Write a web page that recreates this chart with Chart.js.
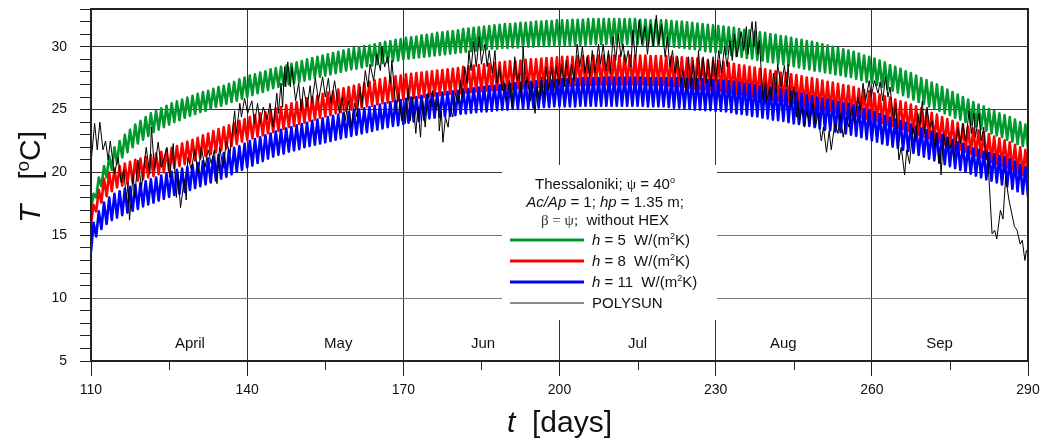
<!doctype html>
<html lang="en">
<head>
  <meta charset="utf-8">
  <title>Collector temperature - Thessaloniki</title>
  <script src="https://cdn.jsdelivr.net/npm/chart.js"></script>
  <style>
    html, body { margin: 0; padding: 0; background: #fff; }
    #wrap { width: 1044px; height: 442px; }
  </style>
</head>
<body>
  <div id="wrap"><canvas id="tempChart" width="1044" height="442"></canvas></div>

  <script>
    // === DATA ===
    // Daily minima (night, at the start of each day) and maxima (midday) in degC, day 110..290
    const firstDay = 110;

    const greenLow = [
      17.0, 18.0, 18.9, 19.6, 20.2, 20.7, 21.2, 21.6, 22.0, 22.3,
      22.6, 22.9, 23.2, 23.4, 23.6, 23.8, 24.0, 24.15, 24.35, 24.5,
      24.65, 24.8, 24.9, 25.05, 25.2, 25.3, 25.45, 25.6, 25.7, 25.85,
      26.0, 26.15, 26.3, 26.4, 26.55, 26.7, 26.8, 26.9, 27.0, 27.1,
      27.2, 27.3, 27.4, 27.5, 27.6, 27.7, 27.8, 27.9, 28.0, 28.1,
      28.2, 28.25, 28.35, 28.45, 28.5, 28.6, 28.7, 28.75, 28.85, 28.9,
      29.0, 29.05, 29.1, 29.15, 29.2, 29.25, 29.3, 29.35, 29.4, 29.45,
      29.5, 29.55, 29.6, 29.65, 29.7, 29.75, 29.8, 29.85, 29.85, 29.9,
      29.9, 29.95, 29.95, 30.0, 30.0, 30.0, 30.05, 30.05, 30.05, 30.1,
      30.1, 30.1, 30.1, 30.15, 30.15, 30.15, 30.2, 30.2, 30.2, 30.2,
      30.2, 30.2, 30.2, 30.2, 30.2, 30.2, 30.15, 30.15, 30.1, 30.1,
      30.1, 30.05, 30.0, 29.95, 29.9, 29.85, 29.8, 29.75, 29.65, 29.6,
      29.55, 29.5, 29.4, 29.35, 29.25, 29.2, 29.1, 29.05, 28.95, 28.9,
      28.8, 28.75, 28.65, 28.6, 28.5, 28.45, 28.35, 28.25, 28.2, 28.1,
      28.05, 27.95, 27.9, 27.8, 27.75, 27.65, 27.6, 27.45, 27.35, 27.2,
      27.1, 26.95, 26.8, 26.65, 26.5, 26.35, 26.15, 26.0, 25.8, 25.6,
      25.45, 25.25, 25.1, 24.9, 24.7, 24.55, 24.35, 24.2, 24.0, 23.8,
      23.65, 23.45, 23.3, 23.1, 22.95, 22.8, 22.6, 22.45, 22.25, 22.1,
      21.9
    ];
    const greenHigh = [
      18.3, 19.6, 20.5, 21.3, 22.0, 22.5, 23.0, 23.4, 23.8, 24.1,
      24.4, 24.7, 24.9, 25.1, 25.3, 25.5, 25.65, 25.8, 25.95, 26.1,
      26.25, 26.4, 26.5, 26.65, 26.8, 26.9, 27.05, 27.2, 27.4, 27.55,
      27.7, 27.8, 27.95, 28.05, 28.2, 28.3, 28.4, 28.5, 28.65, 28.75,
      28.85, 29.0, 29.1, 29.2, 29.3, 29.4, 29.5, 29.6, 29.7, 29.8,
      29.9, 29.95, 30.05, 30.1, 30.2, 30.3, 30.4, 30.45, 30.55, 30.6,
      30.7, 30.75, 30.8, 30.9, 30.95, 31.0, 31.1, 31.15, 31.2, 31.25,
      31.3, 31.4, 31.45, 31.5, 31.55, 31.6, 31.65, 31.7, 31.75, 31.8,
      31.8, 31.85, 31.9, 31.9, 31.95, 32.0, 32.0, 32.05, 32.05, 32.1,
      32.1, 32.1, 32.15, 32.15, 32.15, 32.2, 32.2, 32.2, 32.2, 32.2,
      32.2, 32.2, 32.2, 32.2, 32.2, 32.15, 32.15, 32.1, 32.1, 32.1,
      32.1, 32.05, 32.0, 32.0, 31.95, 31.9, 31.85, 31.8, 31.75, 31.7,
      31.65, 31.6, 31.55, 31.5, 31.4, 31.35, 31.3, 31.2, 31.15, 31.1,
      31.0, 30.95, 30.85, 30.8, 30.7, 30.6, 30.55, 30.45, 30.4, 30.3,
      30.2, 30.1, 30.0, 29.9, 29.8, 29.7, 29.6, 29.45, 29.3, 29.2,
      29.05, 28.9, 28.75, 28.55, 28.4, 28.25, 28.05, 27.9, 27.7, 27.5,
      27.35, 27.15, 27.0, 26.8, 26.6, 26.4, 26.2, 26.0, 25.8, 25.6,
      25.4, 25.25, 25.05, 24.9, 24.7, 24.55, 24.4, 24.2, 24.0, 23.8
    ];

    const redLow = [
      15.9, 16.9, 17.6, 18.1, 18.5, 18.8, 18.95, 19.1, 19.2, 19.35,
      19.45, 19.6, 19.7, 19.85, 20.0, 20.15, 20.35, 20.5, 20.65, 20.8,
      20.95, 21.1, 21.3, 21.45, 21.6, 21.75, 21.9, 22.1, 22.25, 22.45,
      22.6, 22.7, 22.85, 22.95, 23.1, 23.2, 23.3, 23.45, 23.6, 23.7,
      23.85, 23.95, 24.1, 24.2, 24.35, 24.45, 24.55, 24.7, 24.8, 24.9,
      25.0, 25.1, 25.15, 25.25, 25.3, 25.4, 25.5, 25.55, 25.65, 25.7,
      25.8, 25.85, 25.9, 25.95, 26.0, 26.05, 26.1, 26.15, 26.2, 26.25,
      26.25, 26.3, 26.35, 26.4, 26.45, 26.45, 26.5, 26.55, 26.55, 26.6,
      26.65, 26.65, 26.7, 26.7, 26.75, 26.75, 26.8, 26.8, 26.85, 26.85,
      26.9, 26.9, 26.9, 26.95, 26.95, 26.95, 26.95, 27.0, 27.0, 27.0,
      27.0, 27.0, 27.0, 27.0, 27.0, 27.0, 27.0, 26.95, 26.95, 26.95,
      26.95, 26.9, 26.85, 26.85, 26.8, 26.75, 26.7, 26.65, 26.6, 26.55,
      26.55, 26.5, 26.4, 26.35, 26.25, 26.2, 26.1, 26.05, 26.0, 25.95,
      25.9, 25.8, 25.75, 25.7, 25.6, 25.5, 25.4, 25.3, 25.2, 25.1,
      25.05, 24.95, 24.9, 24.8, 24.75, 24.65, 24.6, 24.5, 24.4, 24.3,
      24.2, 24.1, 23.95, 23.8, 23.7, 23.55, 23.45, 23.3, 23.15, 23.0,
      22.85, 22.7, 22.55, 22.4, 22.25, 22.1, 21.95, 21.8, 21.65, 21.5,
      21.35, 21.2, 21.05, 20.85, 20.7, 20.55, 20.4, 20.2, 20.0, 19.8,
      19.6
    ];
    const redHigh = [
      17.4, 18.6, 19.5, 20.0, 20.3, 20.5, 20.7, 20.85, 21.0, 21.1,
      21.25, 21.4, 21.5, 21.65, 21.8, 21.95, 22.1, 22.3, 22.45, 22.6,
      22.75, 22.95, 23.1, 23.3, 23.45, 23.6, 23.75, 23.9, 24.1, 24.25,
      24.4, 24.55, 24.7, 24.8, 24.95, 25.1, 25.2, 25.35, 25.5, 25.6,
      25.75, 25.9, 26.0, 26.1, 26.25, 26.35, 26.45, 26.6, 26.7, 26.8,
      26.9, 27.0, 27.1, 27.2, 27.3, 27.4, 27.5, 27.55, 27.65, 27.7,
      27.8, 27.85, 27.9, 27.95, 28.0, 28.05, 28.1, 28.15, 28.2, 28.25,
      28.3, 28.4, 28.45, 28.5, 28.55, 28.6, 28.65, 28.7, 28.75, 28.8,
      28.85, 28.85, 28.9, 28.95, 29.0, 29.0, 29.05, 29.1, 29.1, 29.15,
      29.2, 29.2, 29.2, 29.25, 29.25, 29.25, 29.3, 29.3, 29.3, 29.3,
      29.3, 29.3, 29.3, 29.3, 29.3, 29.3, 29.3, 29.25, 29.25, 29.25,
      29.25, 29.2, 29.2, 29.15, 29.1, 29.1, 29.05, 29.0, 28.95, 28.9,
      28.85, 28.8, 28.7, 28.65, 28.55, 28.5, 28.4, 28.35, 28.25, 28.2,
      28.1, 28.05, 27.95, 27.9, 27.8, 27.75, 27.65, 27.55, 27.5, 27.4,
      27.3, 27.2, 27.15, 27.05, 26.95, 26.9, 26.8, 26.65, 26.55, 26.45,
      26.3, 26.2, 26.05, 25.95, 25.8, 25.65, 25.55, 25.4, 25.25, 25.1,
      24.9, 24.75, 24.6, 24.4, 24.25, 24.1, 23.95, 23.8, 23.65, 23.5,
      23.35, 23.2, 23.05, 22.85, 22.7, 22.55, 22.4, 22.2, 22.0, 21.8
    ];

    const blueLow = [
      13.7, 14.9, 15.5, 15.9, 16.2, 16.4, 16.6, 16.8, 16.95, 17.1,
      17.3, 17.45, 17.6, 17.75, 17.9, 18.05, 18.2, 18.3, 18.45, 18.6,
      18.75, 18.9, 19.05, 19.2, 19.35, 19.5, 19.65, 19.85, 20.05, 20.2,
      20.4, 20.55, 20.75, 20.9, 21.1, 21.25, 21.4, 21.5, 21.65, 21.75,
      21.85, 22.0, 22.1, 22.2, 22.3, 22.4, 22.5, 22.6, 22.7, 22.8,
      22.9, 23.0, 23.1, 23.2, 23.3, 23.4, 23.5, 23.6, 23.7, 23.75,
      23.85, 23.95, 24.05, 24.1, 24.2, 24.3, 24.35, 24.4, 24.45, 24.5,
      24.55, 24.65, 24.7, 24.75, 24.8, 24.85, 24.85, 24.9, 24.95, 25.0,
      25.0, 25.05, 25.05, 25.1, 25.1, 25.15, 25.15, 25.2, 25.2, 25.25,
      25.25, 25.25, 25.25, 25.25, 25.3, 25.3, 25.3, 25.3, 25.3, 25.3,
      25.3, 25.3, 25.3, 25.3, 25.3, 25.3, 25.3, 25.25, 25.25, 25.25,
      25.25, 25.2, 25.15, 25.15, 25.1, 25.05, 25.0, 25.0, 24.95, 24.95,
      24.9, 24.9, 24.85, 24.8, 24.7, 24.65, 24.6, 24.5, 24.45, 24.35,
      24.3, 24.2, 24.15, 24.1, 24.0, 23.9, 23.85, 23.75, 23.7, 23.6,
      23.5, 23.4, 23.35, 23.25, 23.2, 23.1, 23.0, 22.9, 22.8, 22.65,
      22.55, 22.45, 22.3, 22.2, 22.05, 21.95, 21.8, 21.7, 21.55, 21.4,
      21.25, 21.1, 20.95, 20.8, 20.65, 20.5, 20.35, 20.2, 20.05, 19.9,
      19.75, 19.6, 19.45, 19.35, 19.2, 19.05, 18.9, 18.7, 18.5, 18.3,
      18.1
    ];
    const blueHigh = [
      16.0, 16.9, 17.6, 18.0, 18.3, 18.5, 18.7, 18.85, 19.0, 19.15,
      19.3, 19.45, 19.6, 19.75, 19.9, 20.05, 20.2, 20.3, 20.45, 20.6,
      20.75, 20.9, 21.1, 21.25, 21.4, 21.55, 21.75, 21.95, 22.1, 22.3,
      22.5, 22.65, 22.8, 22.95, 23.1, 23.25, 23.4, 23.5, 23.6, 23.75,
      23.85, 23.95, 24.1, 24.2, 24.3, 24.4, 24.5, 24.6, 24.7, 24.8,
      24.9, 25.0, 25.1, 25.2, 25.3, 25.4, 25.5, 25.6, 25.7, 25.75,
      25.85, 25.95, 26.0, 26.1, 26.15, 26.25, 26.3, 26.35, 26.4, 26.45,
      26.5, 26.6, 26.65, 26.7, 26.75, 26.8, 26.85, 26.9, 26.95, 27.0,
      27.05, 27.1, 27.1, 27.15, 27.2, 27.25, 27.25, 27.3, 27.3, 27.35,
      27.4, 27.4, 27.45, 27.45, 27.5, 27.5, 27.5, 27.5, 27.55, 27.55,
      27.55, 27.55, 27.55, 27.55, 27.55, 27.55, 27.5, 27.5, 27.5, 27.5,
      27.5, 27.5, 27.5, 27.45, 27.45, 27.45, 27.4, 27.4, 27.35, 27.35,
      27.3, 27.3, 27.25, 27.2, 27.15, 27.05, 27.0, 26.95, 26.85, 26.8,
      26.75, 26.65, 26.6, 26.55, 26.45, 26.35, 26.25, 26.15, 26.05, 25.95,
      25.85, 25.8, 25.7, 25.6, 25.5, 25.45, 25.35, 25.2, 25.05, 24.95,
      24.8, 24.65, 24.5, 24.35, 24.2, 24.1, 23.95, 23.8, 23.65, 23.5,
      23.35, 23.25, 23.1, 22.95, 22.75, 22.6, 22.4, 22.25, 22.05, 21.9,
      21.8, 21.65, 21.55, 21.45, 21.3, 21.2, 21.05, 20.85, 20.6, 20.4
    ];

    // POLYSUN simulation (day, degC)
    const polyDays = [
      110.1, 110.7, 111.2, 111.7, 112.3, 112.8, 113.3, 113.7, 114.5, 115.2,
      115.8, 116.3, 116.8, 117.1, 117.4, 118.1, 118.4, 119.0, 119.7, 120.6,
      121.3, 121.6, 122.2, 122.9, 123.5, 124.6, 125.1, 125.8, 126.4, 126.7,
      127.2, 127.9, 128.3, 128.6, 129.3, 129.9, 130.6, 131.2, 131.9, 132.5,
      133.1, 133.7, 134.2, 134.7, 135.4, 136.0, 136.7, 137.6, 137.9, 138.6,
      138.9, 139.5, 140.1, 140.9, 141.4, 142.0, 142.5, 143.1, 143.8, 144.4,
      145.0, 145.7, 146.0, 146.5, 146.8, 147.2, 147.4, 147.8, 148.3, 148.6,
      149.3, 149.9, 150.4, 150.8, 151.5, 152.1, 152.4, 153.1, 153.7, 154.5,
      155.0, 155.6, 156.1, 156.8, 157.7, 158.3, 158.8, 159.5, 160.0, 160.6,
      161.1, 161.7, 162.0, 162.7, 163.2, 163.6, 164.3, 164.9, 165.6, 165.9,
      166.4, 167.0, 167.5, 167.8, 168.6, 169.1, 169.7, 170.1, 170.4, 170.9,
      171.35, 171.8, 172.4, 172.8, 173.3, 173.7, 174.2, 174.75, 175.2, 175.6,
      176.2, 176.7, 176.9, 177.3, 177.6, 178.1, 178.6, 179.0, 179.5, 180.0,
      180.5, 181.0, 181.3, 181.8, 182.25, 182.6, 183.0, 183.5, 184.0, 184.6,
      185.0, 185.65, 186.1, 186.5, 187.1, 187.6, 188.0, 188.5, 189.0, 189.3,
      189.75, 190.4, 190.9, 191.4, 191.9, 192.3, 192.7, 193.0, 193.5, 193.8,
      194.4, 194.75, 195.3, 195.7, 196.2, 196.5, 197.0, 197.4, 197.95, 198.5,
      198.9, 199.4, 199.9, 200.4, 200.9, 201.3, 201.8, 202.3, 202.8, 203.4,
      203.9, 204.4, 204.9, 205.3, 205.8, 206.3, 206.8, 207.5, 207.9, 208.4,
      208.9, 209.4, 209.8, 210.3, 210.8, 211.3, 211.8, 212.2, 212.7, 213.2,
      213.7, 214.1, 214.6, 215.3, 215.8, 216.4, 216.9, 217.5, 218.0, 218.6,
      219.1, 219.6, 220.3, 220.7, 221.2, 221.7, 222.2, 222.7, 223.3, 223.7,
      224.3, 224.8, 225.2, 225.7, 226.2, 226.7, 227.1, 227.6, 228.1, 228.6,
      229.1, 229.5, 230.0, 230.6, 231.1, 231.7, 232.2, 232.7, 233.2, 233.6,
      234.1, 234.9, 235.4, 235.9, 236.2, 237.0, 237.3, 237.7, 238.1, 238.4,
      239.1, 239.6, 239.8, 240.4, 240.7, 241.1, 241.6, 241.9, 242.6, 243.2,
      243.7, 243.9, 244.5, 245.0, 245.5, 245.8, 246.1, 246.6, 247.1, 247.5,
      248.0, 248.7, 249.2, 249.6, 250.3, 250.7, 251.3, 251.8, 252.2, 252.9,
      253.5, 253.9, 254.5, 255.1, 255.6, 256.1, 256.7, 257.3, 257.8, 258.3,
      258.8, 259.5, 259.9, 260.5, 261.2, 261.6, 262.1, 262.6, 263.1, 263.5,
      264.2, 264.6, 265.2, 265.65, 266.3, 266.7, 267.25, 267.9, 268.4, 268.85,
      269.2, 269.7, 270.1, 270.6, 271.1, 271.6, 272.1, 272.4, 272.9, 273.1,
      273.3, 273.8, 274.2, 274.6, 274.9, 275.5, 275.9, 276.5, 277.0, 277.5,
      278.0, 278.7, 279.1, 279.6, 279.9, 280.6, 281.0, 281.5, 281.9, 282.2,
      283.1, 283.6, 284.0, 284.7, 285.2, 285.7, 286.35, 287.4, 287.9, 288.5,
      288.9, 289.4, 289.7, 290.0
    ];
    const polyTemps = [
      21.2, 23.9, 21.8, 24.0, 21.8, 22.5, 21.0, 22.5, 19.9, 21.2,
      19.2, 20.2, 17.8, 19.2, 16.2, 19.9, 18.0, 21.0, 18.8, 22.0,
      19.9, 23.6, 20.2, 22.4, 20.4, 22.0, 19.6, 22.3, 18.0, 19.9,
      17.2, 19.4, 17.8, 21.2, 20.2, 21.8, 19.9, 22.0, 20.4, 21.8,
      20.7, 21.8, 19.1, 22.0, 20.4, 22.5, 21.5, 24.9, 23.1, 25.5,
      24.4, 25.9, 24.7, 25.7, 23.9, 25.5, 23.9, 25.2, 24.2, 25.5,
      23.6, 26.3, 24.7, 27.1, 25.2, 28.4, 26.8, 28.8, 26.8, 28.4,
      25.7, 27.1, 24.9, 26.8, 25.2, 26.9, 25.5, 27.5, 25.7, 27.6,
      26.0, 27.5, 25.5, 27.3, 24.7, 26.0, 24.1, 25.7, 23.6, 25.5,
      24.4, 26.8, 25.2, 28.1, 26.8, 28.6, 27.3, 29.4, 28.1, 30.0,
      28.4, 29.2, 27.1, 28.9, 24.9, 26.3, 24.1, 25.2, 23.9, 26.7,
      24.1, 26.0, 23.1, 25.2, 22.8, 25.7, 23.6, 26.3, 25.2, 26.5,
      24.9, 25.7, 23.3, 24.9, 22.4, 24.4, 23.6, 25.2, 24.4, 26.3,
      25.5, 27.3, 26.0, 28.4, 27.1, 29.7, 28.1, 30.4, 28.4, 30.8,
      28.6, 30.2, 28.4, 29.7, 27.9, 29.7, 27.1, 28.4, 26.5, 27.3,
      25.7, 27.3, 25.2, 29.2, 27.3, 27.9, 25.7, 30.0, 26.8, 27.6,
      25.7, 27.1, 24.7, 26.8, 25.7, 27.6, 26.0, 28.4, 26.5, 28.4,
      26.5, 28.4, 26.9, 28.6, 26.8, 28.9, 27.1, 28.6, 27.3, 30.2,
      28.4, 30.0, 27.9, 29.2, 27.6, 29.7, 27.9, 30.2, 28.6, 30.2,
      28.1, 29.7, 27.9, 30.8, 28.9, 31.0, 29.2, 30.2, 28.6, 29.7,
      28.4, 31.3, 28.9, 32.1, 30.2, 31.6, 29.4, 31.8, 30.0, 32.5,
      30.2, 31.8, 29.2, 30.8, 28.4, 29.7, 27.9, 29.2, 27.1, 28.1,
      26.5, 29.2, 26.8, 28.9, 26.5, 29.7, 27.3, 29.2, 27.1, 28.9,
      26.8, 29.2, 27.3, 29.7, 27.9, 30.0, 28.4, 30.5, 28.9, 31.0,
      29.2, 31.2, 29.7, 31.6, 29.4, 32.0, 30.0, 32.0, 29.4, 30.5,
      25.7, 27.3, 25.6, 26.8, 25.7, 27.9, 26.3, 28.6, 26.8, 28.5,
      26.8, 28.6, 25.2, 26.8, 24.4, 25.7, 23.9, 25.2, 23.6, 24.9,
      23.9, 25.5, 23.6, 24.7, 22.5, 23.6, 21.6, 23.3, 21.8, 23.9,
      23.1, 24.7, 22.8, 24.4, 23.6, 25.2, 23.9, 26.0, 24.9, 27.1,
      25.7, 27.3, 26.0, 27.3, 26.3, 27.2, 25.7, 27.6, 26.0, 26.8,
      24.1, 25.5, 21.0, 22.0, 19.8, 21.8, 20.7, 23.6, 22.5, 24.7,
      23.6, 25.7, 23.1, 25.2, 23.6, 24.1, 22.0, 23.1, 20.7, 21.5,
      19.8, 23.1, 22.0, 22.8, 21.8, 22.5, 21.2, 23.6, 22.3, 23.9,
      22.5, 24.9, 23.1, 24.7, 22.8, 24.7, 22.5, 23.6, 21.0, 21.8,
      15.1, 15.4, 14.7, 17.0, 16.3, 19.6, 17.8, 15.7, 15.4, 14.3,
      14.6, 13.0, 13.8, 13.5
    ];

    // Axis ticks and month markers
    const xMajorTicks = [110, 140, 170, 200, 230, 260, 290];
    const xMinorTicks = [125, 155, 185, 215, 245, 275];
    const xGridDays = [140, 170, 200, 230, 260];
    const yGridTemps = [10, 15, 20, 25, 30];
    const monthNames = ["April", "May", "Jun", "Jul", "Aug", "Sep"];
    const monthDays = [129, 157.5, 185.3, 215, 243, 273];
    const monthLabelTemp = 6.4;

    const legendLabels = ["5", "8", "11"];

    // === HELPERS ===

    // Turns the daily min/max lists into one zig-zag series (min at d, max at d + 0.5)
    function dailyCycle(lows, highs) {
      const pts = [];
      lows.forEach((t, i) => {
        pts.push({ x: firstDay + i, y: t });
        if (i < highs.length) pts.push({ x: firstDay + i + 0.5, y: highs[i] });
      });
      return pts;
    }

    const SANS = '"Liberation Sans", Arial, sans-serif';
    const SERIF = '"Liberation Serif", "Times New Roman", serif';

    // Text made of pieces: [text, flags] with i = italic, s = superscript, g = serif symbol
    function partFont(flags, size) {
      const sz = flags.includes("s") ? Math.round(size * 0.62) : size;
      const fam = flags.includes("g") ? SERIF : SANS;
      return (flags.includes("i") ? "italic " : "") + sz + "px " + fam;
    }

    function richWidth(ctx, parts, size) {
      let w = 0;
      parts.forEach(([t, f = ""]) => { ctx.font = partFont(f, size); w += ctx.measureText(t).width; });
      return w;
    }

    function drawRich(ctx, parts, x, y, size, align) {
      let cx = align === "center" ? x - richWidth(ctx, parts, size) / 2 : x;
      ctx.textAlign = "left";
      ctx.textBaseline = "alphabetic";
      parts.forEach(([t, f = ""]) => {
        ctx.font = partFont(f, size);
        const dy = f.includes("s") ? -size * 0.38 : 0;
        ctx.fillText(t, cx, y + dy);
        cx += ctx.measureText(t).width;
      });
    }

    // === CHART DECORATION: frame, minor ticks, months, legend box, axis titles ===

    const decor = {
      id: "decor",
      afterDatasetsDraw(chart) {
        const { ctx, chartArea: a, scales: { x, y } } = chart;
        ctx.save();

        // minor ticks on the day axis
        ctx.strokeStyle = "#222";
        ctx.lineWidth = 1;
        xMinorTicks.forEach(d => {
          const px = Math.round(x.getPixelForValue(d)) + 0.5;
          ctx.beginPath();
          ctx.moveTo(px, a.bottom);
          ctx.lineTo(px, a.bottom + 9);
          ctx.stroke();
        });

        // month names along the bottom of the plot
        ctx.fillStyle = "#111";
        ctx.font = "15px " + SANS;
        ctx.textAlign = "center";
        ctx.textBaseline = "middle";
        monthNames.forEach((m, i) => {
          ctx.fillText(m, x.getPixelForValue(monthDays[i]), y.getPixelForValue(monthLabelTemp));
        });

        // legend with white background
        const bx = 502, by = 165, bw = 215, bh = 155;
        ctx.fillStyle = "#fff";
        ctx.fillRect(bx, by, bw, bh);
        ctx.fillStyle = "#111";
        const cx = 605;
        drawRich(ctx, [["Thessaloniki; "], ["\u03C8", "g"], [" = 40"], ["o", "s"]], cx, 189, 15, "center");
        drawRich(ctx, [["Ac/Ap", "i"], [" = 1; "], ["hp", "i"], [" = 1.35 m;"]], cx, 207, 15, "center");
        ctx.fillStyle = "#333";
        const l3 = [["\u03B2 = \u03C8;", "g"], ["  without HEX"]];
        const w3 = richWidth(ctx, l3, 15);
        ctx.font = partFont("g", 15);
        const wg = ctx.measureText("\u03B2 = \u03C8;").width;
        ctx.fillText("\u03B2 = \u03C8;", cx - w3 / 2, 225);
        ctx.fillStyle = "#111";
        ctx.font = "15px " + SANS;
        ctx.fillText("  without HEX", cx - w3 / 2 + wg, 225);

        const rowY = [240, 261, 282, 303];
        chart.data.datasets.forEach((ds, i) => {
          ctx.strokeStyle = i < 3 ? ds.borderColor : "#666";
          ctx.lineWidth = i < 3 ? 3 : 1.5;
          ctx.beginPath();
          ctx.moveTo(510, rowY[i]);
          ctx.lineTo(584, rowY[i]);
          ctx.stroke();
          ctx.fillStyle = "#111";
          const parts = i < 3
            ? [["h", "i"], [" = " + legendLabels[i] + "  W/(m"], ["2", "s"], ["K)"]]
            : [["POLYSUN"]];
          drawRich(ctx, parts, 592, rowY[i] + 5, 15, "left");
        });

        // plot frame
        ctx.strokeStyle = "#222";
        ctx.lineWidth = 2;
        ctx.strokeRect(a.left, a.top, a.right - a.left, a.bottom - a.top);
        ctx.restore();
      },
      afterDraw(chart) {
        const { ctx, chartArea: a } = chart;
        ctx.save();
        ctx.fillStyle = "#111";

        // x title
        drawRich(ctx, [["t", "i"], ["  [days]"]], (a.left + a.right) / 2, 432, 30, "center");

        // y title, rotated
        ctx.translate(40, (a.top + a.bottom) / 2 - 8);
        ctx.rotate(-Math.PI / 2);
        drawRich(ctx, [["T", "i"], ["   ["], ["o", "s"], ["C]"]], 0, 0, 30, "center");
        ctx.restore();
      }
    };

    // === BUILD CHART ===

    const tickFont = { family: "Liberation Sans, Arial, sans-serif", size: 14 };

    new Chart(document.getElementById("tempChart"), {
      type: "line",
      data: {
        datasets: [
          { label: "h = 5 W/(m2K)", data: dailyCycle(greenLow, greenHigh), borderColor: "#00992e", borderWidth: 2.6, order: 3 },
          { label: "h = 8 W/(m2K)", data: dailyCycle(redLow, redHigh), borderColor: "#ff0000", borderWidth: 2.6, order: 2 },
          { label: "h = 11 W/(m2K)", data: dailyCycle(blueLow, blueHigh), borderColor: "#0000ff", borderWidth: 2.6, order: 1 },
          { label: "POLYSUN", data: polyDays.map((d, i) => ({ x: d, y: polyTemps[i] })), borderColor: "#000", borderWidth: 1, order: 0 }
        ]
      },
      options: {
        responsive: false,
        animation: false,
        layout: { padding: { top: 9, right: 16, left: 0, bottom: 0 } },
        elements: {
          point: { radius: 0 },
          line: { tension: 0, borderJoinStyle: "round", fill: false }
        },
        plugins: { legend: { display: false }, tooltip: { enabled: false } },
        scales: {
          x: {
            type: "linear",
            min: 110,
            max: 290,
            afterBuildTicks: s => { s.ticks = xMajorTicks.map(v => ({ value: v })); },
            afterFit: s => { s.height = 81; s.paddingLeft = 0; s.paddingRight = 0; },
            ticks: { font: tickFont, color: "#111", padding: 6, maxRotation: 0, autoSkip: false },
            grid: {
              color: c => (c.tick && xGridDays.includes(c.tick.value)) ? "#333" : "rgba(0,0,0,0)",
              tickColor: "#222",
              tickLength: 15,
              lineWidth: 1
            },
            border: { display: false }
          },
          y: {
            type: "linear",
            min: 5,
            max: 33,
            afterFit: s => { s.width = 91; s.paddingTop = 0; s.paddingBottom = 0; },
            ticks: {
              stepSize: 1,
              autoSkip: false,
              font: tickFont,
              color: "#111",
              padding: 13,
              callback: v => (v % 5 === 0 && v <= 30) ? v : ""
            },
            grid: {
              color: c => {
                if (!c.tick || !yGridTemps.includes(c.tick.value)) return "rgba(0,0,0,0)";
                return c.tick.value <= 15 ? "#777" : "#333";
              },
              tickColor: "#222",
              tickLength: 11,
              lineWidth: 1
            },
            border: { display: false }
          }
        }
      },
      plugins: [decor]
    });
  </script>
</body>
</html>
